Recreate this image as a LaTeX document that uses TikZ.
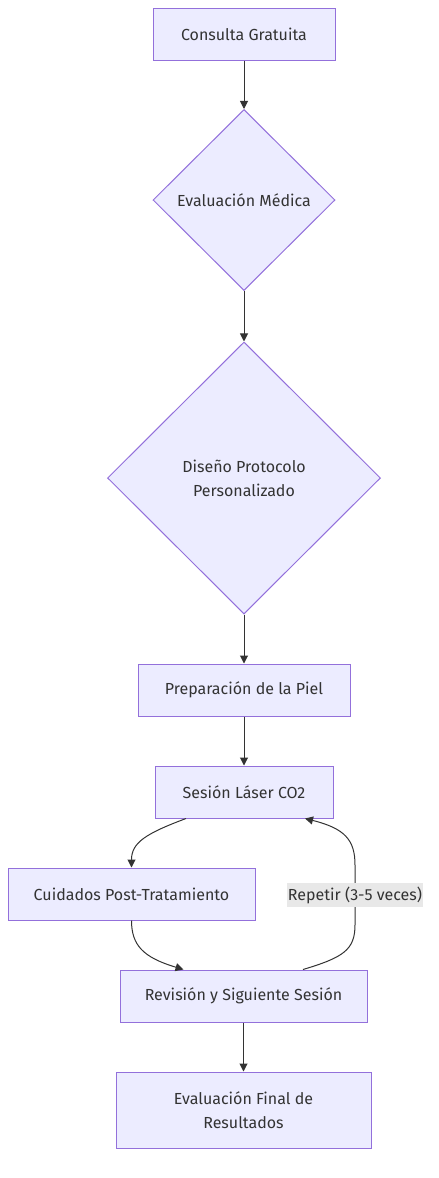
\documentclass[tikz,border=0pt]{standalone}
\usepackage{fontspec}
\setmainfont{Fira Sans}
\usetikzlibrary{shapes.geometric,arrows.meta}
\definecolor{boxfill}{HTML}{ECECFF}
\definecolor{boxline}{HTML}{9370DB}
\definecolor{txt}{HTML}{333333}
\definecolor{lblfill}{HTML}{E8E8E8}

\begin{document}
\begin{tikzpicture}[x=1pt,y=-1pt,->,>={Triangle[length=8pt,width=8pt]},
  node distance=102pt,color=txt,line width=1pt,
  main node/.style={rectangle,fill=boxfill,draw=boxline,text=txt,minimum height=52pt,
    inner sep=0pt,align=center,font=\fontsize{16}{24}\selectfont},
  check node/.style={diamond,aspect=1,fill=boxfill,draw=boxline,text=txt,
    inner sep=0pt,align=center,font=\fontsize{16}{24}\selectfont},
  edge label/.style={fill=lblfill,text=txt,inner xsep=1pt,inner ysep=4pt,font=\fontsize{16}{24}\selectfont}]
  \useasboundingbox (0,0) rectangle (439,1178);
  \node[main node,minimum width=182pt] (1) at (244,34) {Consulta Gratuita};
  \node[check node,minimum width=182pt,minimum height=181pt] (2) at (244,200) {Evaluación Médica};
  \node[check node,minimum width=273pt,minimum height=272pt] (3) at (244,478) {Diseño Protocolo\\Personalizado};
  \node[main node,minimum width=212pt] (4) at (244,690) {Preparación de la Piel};
  \node[main node,minimum width=178pt] (5) [below of=4] {Sesión Láser CO2};
  \node[main node,minimum width=247pt] (6) at (131.5,894) {Cuidados Post-Tratamiento};
  \node[main node,minimum width=247pt] (7) at (243.5,996) {Revisión y Siguiente Sesión};
  \node[main node,minimum width=255pt,minimum height=76pt] (8) at (243.5,1110) {Evaluación Final de\\Resultados};

  \path
    (1) edge (2)
    (2) edge (3)
    (3) edge (4)
    (4) edge (5)
    (7) edge (8);
  \draw ([xshift=-58pt]5.south) .. controls +(-40,15) and +(0,-25) .. (6.north);
  \draw (6.south) .. controls +(0,25) and +(-40,-12) .. ([xshift=-60pt]7.north);
  \draw ([xshift=59.5pt]7.north) .. controls +(40,-12) and +(0,25) .. (355,925)
    -- node[edge label] (rep) {Repetir (3-5 veces)} (355,865)
    .. controls +(0,-25) and +(40,10) .. ([xshift=61pt]5.south);
\end{tikzpicture}
\end{document}
